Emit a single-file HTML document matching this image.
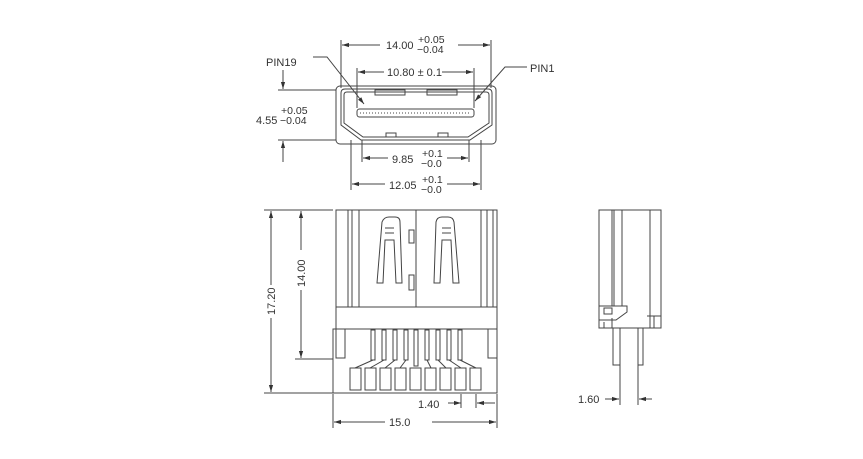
<!DOCTYPE html>
<html><head><meta charset="utf-8"><style>
html,body{margin:0;padding:0;background:#fff;width:863px;height:459px;overflow:hidden}
svg{display:block}
text{font-family:"Liberation Sans",sans-serif;fill:#333;font-size:11px}
.t{font-size:10.5px}
</style></head><body>
<svg width="863" height="459" viewBox="0 0 863 459" xmlns="http://www.w3.org/2000/svg">
<defs>
<marker id="a" viewBox="0 0 10 10" refX="10" refY="5" markerWidth="7" markerHeight="7" orient="auto-start-reverse"><path d="M0,2 L10,5 L0,8 z" fill="#333"/></marker>
</defs>
<g stroke="#444" stroke-width="1" fill="none">
<rect x="336" y="86" width="160" height="58" rx="4"/>
<path d="M341,93 Q341,89 345,89 L488,89 Q492,89 492,93 L492,125 L470,140 L361,140 L341,125 Z"/>
<path d="M344,95 Q344,92 347,92 L486,92 Q489,92 489,95 L489,123 L468,137 L363,137 L344,123 Z"/>
<rect x="357" y="109" width="117" height="8" rx="2.5"/>
<path d="M360,113 H471" stroke-dasharray="1,2"/>
<rect x="375" y="90" width="30" height="5"/>
<rect x="427" y="90" width="30" height="5"/>
<rect x="386" y="133" width="10" height="4"/><rect x="438" y="133" width="10" height="4"/>
<path d="M341,40 V88 M491,40 V88"/>
<path d="M380,45 H342" marker-end="url(#a)"/><path d="M458,45 H490" marker-end="url(#a)"/>
<path d="M357,68 V108 M474,68 V108"/>
<path d="M384,72 H358" marker-end="url(#a)"/><path d="M442,72 H473" marker-end="url(#a)"/>
<path d="M313,57 H327 L364,104" marker-end="url(#a)"/>
<path d="M527,67 H505 L475,101" marker-end="url(#a)"/>
<path d="M283,70 V89" marker-end="url(#a)"/><path d="M283,162 V141" marker-end="url(#a)"/>
<path d="M278,90 H336 M278,140 H336"/>
<path d="M362,140 V162 M469,140 V162"/>
<path d="M388,158 H363" marker-end="url(#a)"/><path d="M447,158 H468" marker-end="url(#a)"/>
<path d="M351,140 V190 M481,140 V190"/>
<path d="M385,184 H352" marker-end="url(#a)"/><path d="M447,184 H480" marker-end="url(#a)"/>
<rect x="336" y="210" width="161" height="97"/>
<path d="M348,210V307 M352,210V307 M359,210V307 M481,210V307 M487,210V307 M493,210V307 M416,210V307"/>
<rect x="336" y="307" width="161" height="22"/>
<rect x="333" y="329" width="164" height="64"/>
<rect x="336" y="329" width="9" height="29"/><rect x="488" y="329" width="9" height="29"/>
<path d="M377,283 L382,222 Q384,217 389,217 L395,217 Q400,217 400,222 L402,283 L396,283 L394,240 L385,240 L383,283 Z M385,228H394 M385,233H394"/>
<path d="M434,283 L436,222 Q437,217 442,217 L448,217 Q453,217 454,222 L459,283 L453,283 L451,240 L442,240 L440,283 Z M442,228H451 M442,233H451"/>
<rect x="409" y="230" width="5" height="13"/><rect x="409" y="275" width="5" height="15"/>
<g>
<rect x="350" y="368" width="11" height="22"/><rect x="365" y="368" width="11" height="22"/><rect x="380" y="368" width="11" height="22"/><rect x="395" y="368" width="11" height="22"/><rect x="410" y="368" width="11" height="22"/><rect x="425" y="368" width="11" height="22"/><rect x="440" y="368" width="11" height="22"/><rect x="455" y="368" width="11" height="22"/><rect x="470" y="368" width="11" height="22"/>
<rect x="371" y="330" width="4" height="30"/><rect x="382" y="330" width="4" height="30"/><rect x="393" y="330" width="4" height="30"/><rect x="404" y="330" width="4" height="30"/><rect x="414" y="330" width="4" height="36"/><rect x="425" y="330" width="4" height="30"/><rect x="436" y="330" width="4" height="30"/><rect x="447" y="330" width="4" height="30"/><rect x="458" y="330" width="4" height="30"/>
<path d="M373,360 L355,368 M384,360 L370,368 M395,360 L385,368 M406,360 L400,368 M427,360 L431,368 M438,360 L446,368 M449,360 L461,368 M460,360 L476,368"/>
</g>
<path d="M264,210 H333 M295,359 H333 M264,393 H333"/>
<path d="M271,285 V211" marker-end="url(#a)"/><path d="M271,318 V392" marker-end="url(#a)"/>
<path d="M301,250 V211" marker-end="url(#a)"/><path d="M301,290 V358" marker-end="url(#a)"/>
<path d="M333,394 V428 M497,394 V428 M461,394 V408 M476,394 V408"/>
<path d="M385,422 H334" marker-end="url(#a)"/><path d="M432,422 H496" marker-end="url(#a)"/>
<path d="M448,403 H461" marker-end="url(#a)"/><path d="M495,403 H477" marker-end="url(#a)"/>
<rect x="599" y="210" width="62" height="118"/>
<path d="M612,210V306 M614,210V306 M622,210V306 M650,210V316"/>
<path d="M599,306 H627 L627,312 L616,320 H599 M604,308 H612 V314 H604 Z M604,322 V328 M612,318 V328"/>
<path d="M647,316 H661 M650,316 V328 M654,316 V328"/>
<path d="M613,328 V365 H620 V328 M638,328 V365 H643 V328 M620,365 V405 M638,365 V405"/>
<path d="M605,399 H619" marker-end="url(#a)"/><path d="M652,399 H639" marker-end="url(#a)"/>
</g>
<text x="386" y="49">14.00</text><text x="418" y="43" class="t">+0.05</text><text x="417" y="53" class="t">−0.04</text>
<text x="387" y="76">10.80 ± 0.1</text>
<text x="266" y="66">PIN19</text>
<text x="530" y="72">PIN1</text>
<text x="256" y="124">4.55</text><text x="281" y="114" class="t">+0.05</text><text x="280" y="124" class="t">−0.04</text>
<text x="392" y="163">9.85</text><text x="422" y="157" class="t">+0.1</text><text x="421" y="167" class="t">−0.0</text>
<text x="389" y="189">12.05</text><text x="422" y="183" class="t">+0.1</text><text x="421" y="193" class="t">−0.0</text>
<text transform="translate(275,315) rotate(-90)">17.20</text>
<text transform="translate(305,287) rotate(-90)">14.00</text>
<text x="418" y="408">1.40</text>
<text x="389" y="426">15.0</text>
<text x="578" y="403">1.60</text>
</svg>
</body></html>
